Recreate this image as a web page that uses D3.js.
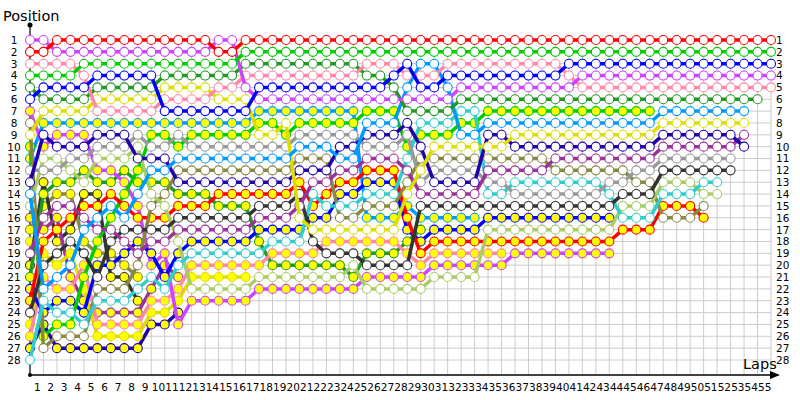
<!DOCTYPE html>
<html>
<head>
<meta charset="utf-8">
<script src="https://cdn.jsdelivr.net/npm/d3@7"></script>
<style>
  body { margin: 0; background: #fff; }
  text { font-family: "DejaVu Sans", sans-serif; fill: #000; }
</style>
</head>
<body>
<script>
// lap numbers shown under the axis
var lapTicks = d3.range(1, 56);
var posTicks = d3.range(1, 29);

// running position of every car, one value per lap (lap 0 = grid)
var redA = [2,2,1,1,1,1,1,1,1,1, 1,1,1,1,2,2,1,1,1,1, 1,1,1,1,1,1,1,1,1,1, 1,1,1,1,1,1,1,1,1,1, 1,1,1,1,1,1,1,1,1,1, 1,1,1,1,1,1];
var greenA = [4,4,4,4,3,3,3,3,3,3, 3,3,3,3,3,3,2,2,2,2, 2,2,2,2,2,2,2,2,2,2, 2,2,2,2,2,2,2,2,2,2, 2,2,2,2,2,2,2,2,2,2, 2,2,2,2,2,2];
var blueA = [6,5,5,5,5,4,4,4,4,4, 7,7,7,7,7,7,7,5,5,5, 5,5,5,5,5,5,5,4,3,5, 5,4,4,4,4,4,4,4,4,4, 3,3,3,3,3,3,3,3,3,3, 3,3,3,3,3,3];
var violetA = [1,1,2,2,2,2,2,2,2,2, 2,2,2,2,1,1,5,6,6,6, 6,6,6,6,6,6,6,6,6,6, 6,6,5,5,5,5,5,5,5,5, 5,4,4,4,4,4,4,4,4,4, 4,4,4,4,4,4];
var pinkA = [3,3,3,3,4,7,7,7,7,7, 6,6,6,6,5,5,4,4,4,4, 4,4,4,4,4,3,3,3,4,4, 4,3,3,3,3,3,3,3,3,3, 4,5,5,5,5,5,5,5,5,5, 5,5,5,5,5,5];
var dkgreenA = [5,6,6,6,6,5,5,5,5,5, 4,4,4,4,4,4,3,3,3,3, 3,3,3,3,3,4,4,5,7,7, 7,7,6,6,6,6,6,6,6,6, 6,6,6,6,6,6,6,6,6,6, 6,6,6,6,6];
var azureA = [14,22,21,20,17,16,15,16,14,12, 12,11,11,11,11,11,11,11,11,11, 10,10,10,11,11,8,8,8,5,3, 3,5,9,9,8,8,8,8,8,8, 8,8,8,8,8,8,8,7,7,7, 7,7,7,7];
var yellowA = [9,7,7,7,7,6,6,6,6,6, 5,5,5,5,6,6,6,9,9,8, 16,17,17,17,17,17,17,17,14,12, 10,10,10,10,10,10,9,9,9,9, 9,9,9,9,9,9,9,8,8,8, 8,8,8,8];
var navyA = [13,9,10,10,10,9,9,9,11,11, 11,13,13,13,13,13,13,13,13,13, 12,12,12,10,10,9,9,9,8,10, 13,13,13,13,9,9,10,10,10,10, 10,10,10,10,10,10,10,9,9,9, 9,9,9,10];
var purpleA = [19,16,15,15,16,17,17,18,19,18, 18,17,17,17,17,17,17,16,16,16, 15,13,13,12,12,11,11,11,12,14, 14,14,14,14,12,12,12,12,12,11, 11,11,11,11,11,11,11,10,10,10, 10,10,10,9];
var greyA = [12,12,12,11,11,10,10,10,9,10, 10,9,10,10,10,10,10,10,10,10, 9,9,9,9,9,10,10,10,9,13, 12,12,12,12,13,13,14,14,14,14, 14,14,14,13,13,12,12,11,11,11, 11,11,11];
var blackA = [24,20,19,18,19,21,18,17,17,17, 17,16,16,16,16,16,16,15,15,15, 14,18,19,19,19,20,20,20,20,15, 15,15,15,15,15,15,15,15,15,15, 15,15,15,15,14,14,14,12,12,12, 12,12,12];
var cyanA = [28,23,24,24,25,23,23,23,22,21, 22,20,19,19,19,19,19,19,18,18, 18,14,15,15,15,14,14,14,11,8, 8,8,7,7,14,14,13,13,13,13, 13,13,13,14,16,16,16,14,14,14, 13,13];
var limeA = [15,11,11,12,13,11,11,11,10,14, 15,18,22,22,22,22,22,21,21,21, 21,21,21,21,20,22,22,22,22,22, 21,21,21,21,17,17,17,17,17,17, 17,17,17,17,15,15,15,13,13,13, 14,14];
var oliveA = [8,27,26,26,26,22,22,22,20,15, 14,12,12,12,12,12,12,12,12,12, 11,11,11,16,16,15,15,15,13,11, 11,11,11,11,11,11,11,11,11,12, 12,12,12,12,12,13,13,16,16,16, 15];

var redB = [23,18,17,16,15,15,14,15,16,16, 16,15,15,15,14,14,14,14,14,14, 13,15,14,13,13,12,12,12,16,19, 18,18,18,18,18,18,18,18,18,18, 18,18,18,18,17,17,17,15,15,15, 16];
var greenB = [10,26,25,25,21,18,16,14,12,9, 9,10,9,9,9,9,9,8,8,9, 8,8,8,8,8,7,7,7,10,9, 9,9,8,8,7,7,7,7,7,7, 7,7,7,7,7,7,7];
var blueB = [22,24,23,23,24,20,20,19,18,19, 21,19,18,18,18,18,18,17,17,17, 17,16,16,14,14,13,13,13,17,18, 17,17,17,17,16,16,16,16,16,16, 16,16,16,16];
var violetB = [7,10,9,9,9,12,12,13,15,20, 19,25,23,23,23,23,23,22,22,22, 22,22,22,22,22,21,21,21,21,21, 20,20,20,20,20,20,19,19,19,19, 19,19,19,19];
var pinkB = [26,21,22,22,20,25,25,25,25,23, 23,22,20,20,20,20,20,20,19,19, 19,19,18,18,18,18,18,18,19,20, 19,19,19,19,19,19];
var dkgreenB = [21,14,13,13,12,13,13,12,13,13, 13,14,14,14,15,15,15,18,20,20, 20,20,20,20,21,19,19,19,18,17];
var azureB = [11,8,8,8,8,8,8,8,8,8, 8,8,8,8,8,8,8,7,7,7, 7,7,7,7,7,16,16,16,15,16, 16,16,16,16];
var yellowB = [25,19,20,19,22,26,26,26,26,24, 24,23,21,21,21,21,21];
var navyB = [27,25,27,27,27,27,27,27,27,25, 25,24];
var blackB = [20,13,18,17,14,14,21,21,23];
var oliveB = [17,15,14,14,18,19,19,20,21];
var purpleB = [16,17,16,21,23,24,24,24,24,22, 20,21];
var limeB = [18];

// teams and their line colours; second car of a team has yellow markers
var teamColor = {
  red: "#ff0000", green: "#00cc00", blue: "#0000ff", violet: "#cc44ff",
  pink: "#ff88aa", dkgreen: "#229922", azure: "#0099ff", yellow: "#dddd00",
  navy: "#2200aa", purple: "#993399", grey: "#999999", black: "#333333",
  cyan: "#33cccc", lime: "#aacc66", olive: "#888844"
};

// drawn back to front
var cars = [
  { team: "lime", second: true, pos: limeB },
  { team: "olive", second: true, pos: oliveB },
  { team: "black", second: true, pos: blackB },
  { team: "purple", second: true, pos: purpleB },
  { team: "navy", second: true, pos: navyB },
  { team: "yellow", second: true, pos: yellowB },
  { team: "dkgreen", second: true, pos: dkgreenB },
  { team: "azure", second: true, pos: azureB },
  { team: "pink", second: true, pos: pinkB },
  { team: "violet", second: true, pos: violetB },
  { team: "blue", second: true, pos: blueB },
  { team: "green", second: true, pos: greenB },
  { team: "red", second: true, pos: redB },
  { team: "olive", second: false, pos: oliveA },
  { team: "lime", second: false, pos: limeA },
  { team: "cyan", second: false, pos: cyanA },
  { team: "black", second: false, pos: blackA },
  { team: "grey", second: false, pos: greyA },
  { team: "purple", second: false, pos: purpleA },
  { team: "navy", second: false, pos: navyA },
  { team: "yellow", second: false, pos: yellowA },
  { team: "azure", second: false, pos: azureA },
  { team: "dkgreen", second: false, pos: dkgreenA },
  { team: "pink", second: false, pos: pinkA },
  { team: "violet", second: false, pos: violetA },
  { team: "blue", second: false, pos: blueA },
  { team: "green", second: false, pos: greenA },
  { team: "red", second: false, pos: redA }
];

var svg = d3.select("body").append("svg")
    .attr("width", 800)
    .attr("height", 400);

var x = d3.scaleLinear().domain([0, 55]).range([30, 771]);
var y = d3.scaleLinear().domain([1, 28]).range([40, 360]);
var step = x(1) - x(0);
var xLab = d3.scaleLinear().domain([0, 55]).range([30 - step / 2, 771 - step / 2]);
var axisY = 375;

// grid
svg.append("g")
    .selectAll("line")
    .data(lapTicks)
    .enter()
    .append("line")
    .attr("x1", function (d) { return x(d); })
    .attr("x2", function (d) { return x(d); })
    .attr("y1", y(1))
    .attr("y2", axisY)
    .attr("stroke", "#cccccc")
    .attr("stroke-width", 1);

svg.append("g")
    .selectAll("line")
    .data(posTicks)
    .enter()
    .append("line")
    .attr("x1", x(0))
    .attr("x2", x(55))
    .attr("y1", function (d) { return y(d); })
    .attr("y2", function (d) { return y(d); })
    .attr("stroke", "#cccccc")
    .attr("stroke-width", 1);

// position labels both sides
var left = svg.append("g")
    .attr("transform", "translate(30,0)")
    .call(d3.axisLeft(y).tickValues(posTicks).tickSize(0).tickFormat(d3.format("d")));
left.select(".domain").remove();
left.selectAll("text")
    .attr("x", -16)
    .attr("text-anchor", "middle")
    .style("font-size", "10.5px")
    .style("font-family", "DejaVu Sans");

var right = svg.append("g")
    .attr("transform", "translate(" + x(55) + ",0)")
    .call(d3.axisRight(y).tickValues(posTicks).tickSize(0).tickPadding(5).tickFormat(d3.format("d")));
right.select(".domain").remove();
right.selectAll("text")
    .style("font-size", "10.5px")
    .style("font-family", "DejaVu Sans");

var bottom = svg.append("g")
    .attr("transform", "translate(0," + axisY + ")")
    .call(d3.axisBottom(xLab).tickValues(lapTicks).tickSize(0).tickPadding(9).tickFormat(d3.format("d")));
bottom.select(".domain").remove();
bottom.selectAll("text")
    .style("font-size", "10.5px")
    .style("font-family", "DejaVu Sans");

// axis lines
svg.append("line")
    .attr("x1", 30).attr("x2", 776)
    .attr("y1", axisY).attr("y2", axisY)
    .attr("stroke", "#000").attr("stroke-width", 1.5);
svg.append("path")
    .attr("d", "M770,371 L780,375 L770,379 Z")
    .attr("fill", "#000");
svg.append("line")
    .attr("x1", 30).attr("x2", 30)
    .attr("y1", axisY).attr("y2", 25)
    .attr("stroke", "#000").attr("stroke-width", 1.2);
svg.append("circle").attr("cx", 30).attr("cy", 25).attr("r", 2.5).attr("fill", "#000");
svg.append("circle").attr("cx", 30).attr("cy", axisY).attr("r", 2).attr("fill", "#000");

svg.append("text")
    .attr("x", 3)
    .attr("y", 21)
    .style("font-size", "14.5px")
    .text("Position");

svg.append("text")
    .attr("x", 743)
    .attr("y", 369)
    .style("font-size", "14.5px")
    .text("Laps");

// cars
var line = d3.line()
    .x(function (d, i) { return x(i); })
    .y(function (d) { return y(d); });

cars.forEach(function (c) {
    var col = teamColor[c.team];
    var g = svg.append("g");
    g.append("path")
        .datum(c.pos)
        .attr("d", line)
        .attr("fill", "none")
        .attr("stroke", col)
        .attr("stroke-width", 3.5)
        .attr("stroke-linejoin", "round");
    g.selectAll("circle")
        .data(c.pos)
        .enter()
        .append("circle")
        .attr("cx", function (d, i) { return x(i); })
        .attr("cy", function (d) { return y(d); })
        .attr("r", 4.5)
        .attr("fill", c.second ? "#ffff00" : "#ffffff")
        .attr("stroke", col)
        .attr("stroke-width", 1.1);
});
</script>
</body>
</html>
